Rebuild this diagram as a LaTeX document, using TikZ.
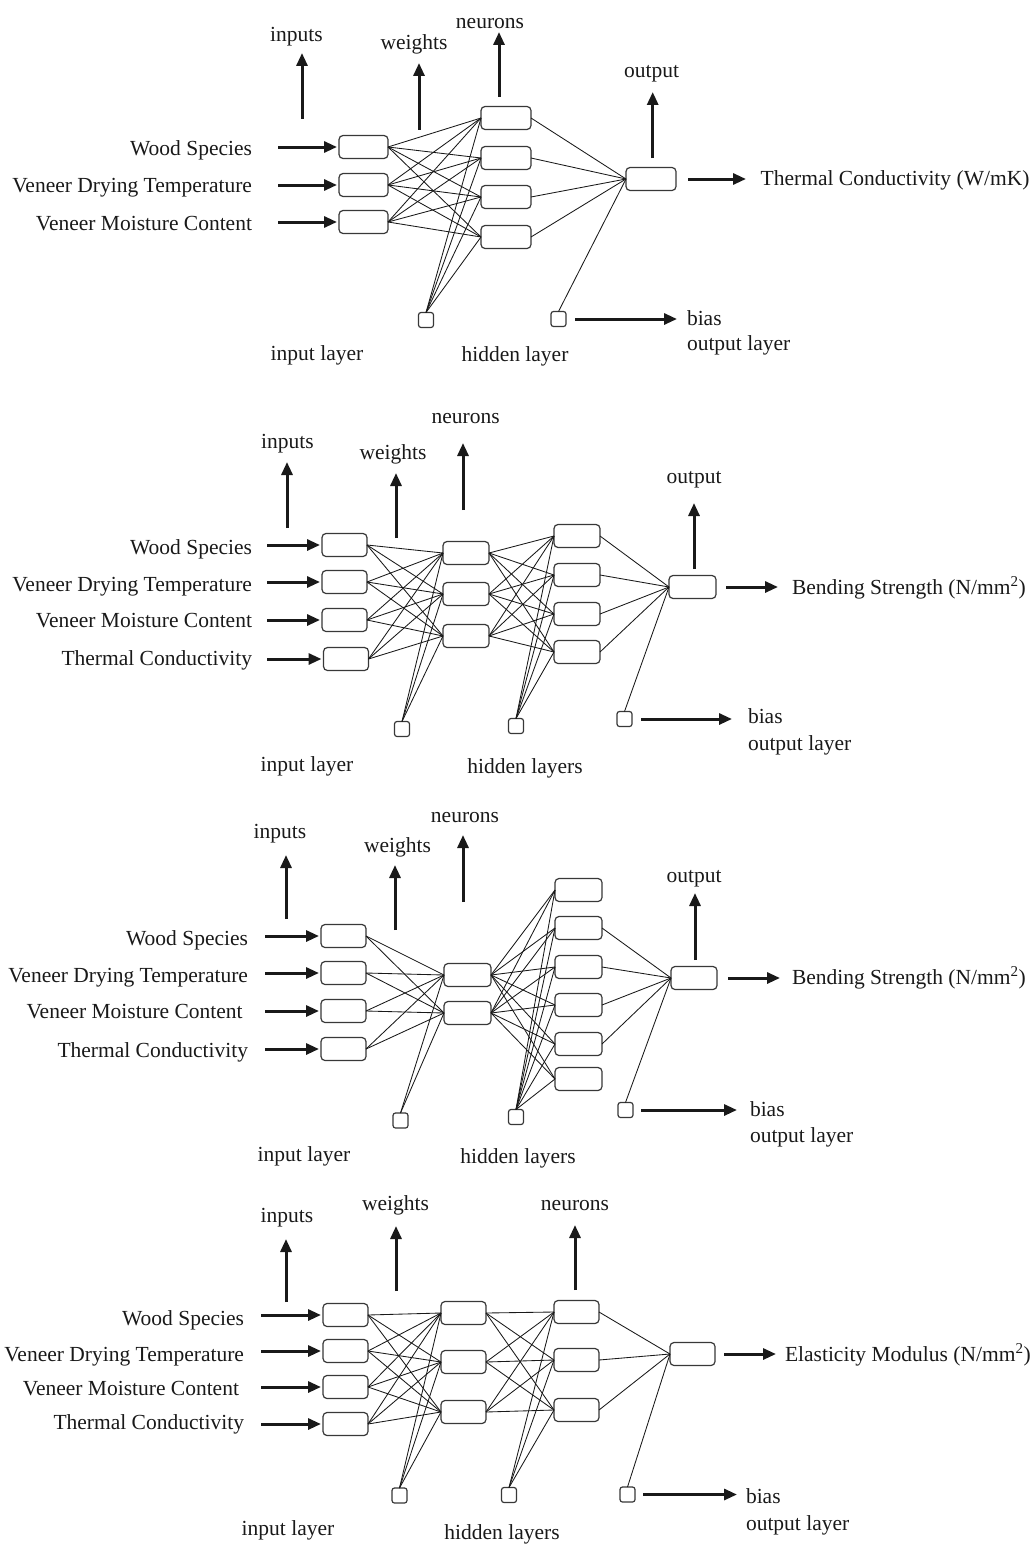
\documentclass[tikz,border=0pt]{standalone}
\usepackage{fontspec}
\setmainfont{Liberation Serif}
\usetikzlibrary{arrows.meta}
\begin{document}
\begin{tikzpicture}[x=1pt,y=-1pt,
  every node/.style={inner sep=0pt, outer sep=0pt},
  unit/.style={draw=black!78, line width=1.2pt, rounded corners=4pt, minimum height=23pt},
  biasbox/.style={draw=black!78, line width=1.2pt, rounded corners=2.5pt, minimum width=15pt, minimum height=15pt},
  lbl/.style={font=\fontsize{21.5}{25}\selectfont, text=black!90},
  conn/.style={line width=0.85pt, draw=black!90},
  bigarrow/.style={line width=3pt, draw=black!90, -{Triangle[length=13pt,width=11pt]}},
]
\useasboundingbox (0,0) rectangle (1031,1544);

% ================= PANEL 1 =================
\foreach \i/\y in {1/147,2/185,3/222} \node[unit, minimum width=49pt] (p1i\i) at (363.5,\y) {};
\foreach \i/\y in {1/118,2/158,3/197,4/237} \node[unit, minimum width=50pt] (p1h\i) at (506,\y) {};
\node[unit, minimum width=50pt] (p1o) at (651,179) {};
\node[biasbox] (p1b1) at (426,320) {};
\node[biasbox] (p1b2) at (558.5,319) {};
\foreach \i in {1,2,3} \foreach \j in {1,...,4} \draw[conn] (p1i\i.east) -- (p1h\j.west);
\foreach \j in {1,...,4} \draw[conn] (p1b1.north) -- (p1h\j.west);
\foreach \j in {1,...,4} \draw[conn] (p1h\j.east) -- (p1o.west);
\draw[conn] (p1b2.north) -- (p1o.west);

\node[lbl, anchor=base east] (p1l1) at (252,155) {Wood Species};
\node[lbl, anchor=base east] (p1l2) at (252,192.7) {Veneer Drying Temperature};
\node[lbl, anchor=base east] (p1l3) at (252,230) {Veneer Moisture Content};
\foreach \i/\y in {1/147,2/185,3/222} {\coordinate (p1s\i) at (278,\y); \draw[bigarrow, shorten >=2pt] (p1s\i) -- (p1i\i.west);}

\node[lbl, anchor=base] (p1inp) at (296.5,42) {inputs};
\coordinate (p1ua1) at (302,119); \coordinate (p1ub1) at (302,53);
\draw[bigarrow] (p1ua1) -- (p1ub1);
\node[lbl, anchor=base] (p1wts) at (414,50) {weights};
\coordinate (p1ua2) at (419,130); \coordinate (p1ub2) at (419,63);
\draw[bigarrow] (p1ua2) -- (p1ub2);
\node[lbl, anchor=base] (p1neu) at (490,29) {neurons};
\coordinate (p1ua3) at (499,97); \coordinate (p1ub3) at (499,32);
\draw[bigarrow] (p1ua3) -- (p1ub3);
\node[lbl, anchor=base] (p1out) at (651.5,78) {output};
\coordinate (p1ua4) at (652.7,158); \coordinate (p1ub4) at (652.7,92);
\draw[bigarrow] (p1ua4) -- (p1ub4);

\coordinate (p1oe) at (746,179);
\draw[bigarrow, shorten <=12pt] (p1o.east) -- (p1oe);
\node[lbl, anchor=base west] (p1res) at (760.7,185) {Thermal Conductivity (W/mK)};
\coordinate (p1be) at (677,319);
\draw[bigarrow, shorten <=9pt] (p1b2.east) -- (p1be);
\node[lbl, anchor=base west] (p1bias) at (687,325) {bias};
\node[lbl, anchor=base west] (p1ol) at (687,350) {output layer};
\node[lbl, anchor=base] (p1il) at (317,360) {input layer};
\node[lbl, anchor=base] (p1hl) at (515,361) {hidden layer};

% ================= PANEL 2 =================
\foreach \i/\x/\y in {1/344.5/545,2/344.5/582,3/344.5/620,4/346/659} \node[unit, minimum width=45pt] (p2i\i) at (\x,\y) {};
\foreach \i/\y in {1/553,2/594,3/636} \node[unit, minimum width=46pt] (p2h\i) at (466,\y) {};
\foreach \i/\y in {1/536,2/575,3/614,4/652} \node[unit, minimum width=46pt] (p2k\i) at (577,\y) {};
\node[unit, minimum width=47pt] (p2o) at (692.5,587) {};
\node[biasbox] (p2b1) at (402,729) {};
\node[biasbox] (p2b2) at (516,726) {};
\node[biasbox] (p2b3) at (624.5,719) {};
\foreach \i in {1,...,4} \foreach \j in {1,2,3} \draw[conn] (p2i\i.east) -- (p2h\j.west);
\foreach \j in {1,2,3} \draw[conn] (p2b1.north) -- (p2h\j.west);
\foreach \i in {1,2,3} \foreach \j in {1,...,4} \draw[conn] (p2h\i.east) -- (p2k\j.west);
\foreach \j in {1,...,4} \draw[conn] (p2b2.north) -- (p2k\j.west);
\foreach \j in {1,...,4} \draw[conn] (p2k\j.east) -- (p2o.west);
\draw[conn] (p2b3.north) -- (p2o.west);

\node[lbl, anchor=base east] (p2l1) at (252,554) {Wood Species};
\node[lbl, anchor=base east] (p2l2) at (252,591.7) {Veneer Drying Temperature};
\node[lbl, anchor=base east] (p2l3) at (252,627.7) {Veneer Moisture Content};
\node[lbl, anchor=base east] (p2l4) at (252,665) {Thermal Conductivity};
\foreach \i/\y in {1/545,2/582,3/620,4/659} {\coordinate (p2s\i) at (267,\y); \draw[bigarrow, shorten >=2pt] (p2s\i) -- (p2i\i.west);}

\node[lbl, anchor=base] (p2inp) at (287.5,448) {inputs};
\coordinate (p2ua1) at (287,528); \coordinate (p2ub1) at (287,462);
\draw[bigarrow] (p2ua1) -- (p2ub1);
\node[lbl, anchor=base] (p2wts) at (393,459) {weights};
\coordinate (p2ua2) at (396,538); \coordinate (p2ub2) at (396,473);
\draw[bigarrow] (p2ua2) -- (p2ub2);
\node[lbl, anchor=base] (p2neu) at (465.7,423) {neurons};
\coordinate (p2ua3) at (463,510); \coordinate (p2ub3) at (463,443);
\draw[bigarrow] (p2ua3) -- (p2ub3);
\node[lbl, anchor=base] (p2out) at (694,483) {output};
\coordinate (p2ua4) at (694,569); \coordinate (p2ub4) at (694,503);
\draw[bigarrow] (p2ua4) -- (p2ub4);

\coordinate (p2oe) at (778,587);
\draw[bigarrow, shorten <=10pt] (p2o.east) -- (p2oe);
\node[lbl, anchor=base west] (p2res) at (792,594) {Bending Strength (N/mm\textsuperscript{2})};
\coordinate (p2be) at (732,719);
\draw[bigarrow, shorten <=9pt] (p2b3.east) -- (p2be);
\node[lbl, anchor=base west] (p2bias) at (748,723) {bias};
\node[lbl, anchor=base west] (p2ol) at (748,750) {output layer};
\node[lbl, anchor=base] (p2il) at (307,771) {input layer};
\node[lbl, anchor=base] (p2hl) at (525,773) {hidden layers};

% ================= PANEL 3 =================
\foreach \i/\y in {1/936,2/973,3/1011,4/1049} \node[unit, minimum width=45pt] (p3i\i) at (343.5,\y) {};
\foreach \i/\y in {1/975,2/1013} \node[unit, minimum width=47pt] (p3h\i) at (467.5,\y) {};
\foreach \i/\y in {1/890,2/928,3/967,4/1005,5/1044,6/1079} \node[unit, minimum width=47pt] (p3k\i) at (578.5,\y) {};
\node[unit, minimum width=46pt] (p3o) at (694,978) {};
\node[biasbox] (p3b1) at (400.5,1120.5) {};
\node[biasbox] (p3b2) at (516,1117) {};
\node[biasbox] (p3b3) at (625.5,1110) {};
\foreach \i in {1,...,4} \foreach \j in {1,2} \draw[conn] (p3i\i.east) -- (p3h\j.west);
\foreach \j in {1,2} \draw[conn] (p3b1.north) -- (p3h\j.west);
\foreach \i in {1,2} \foreach \j in {1,...,6} \draw[conn] (p3h\i.east) -- (p3k\j.west);
\foreach \j in {1,...,6} \draw[conn] (p3b2.north) -- (p3k\j.west);
\foreach \j in {2,...,5} \draw[conn] (p3k\j.east) -- (p3o.west);
\draw[conn] (p3b3.north) -- (p3o.west);

\node[lbl, anchor=base east] (p3l1) at (248,945) {Wood Species};
\node[lbl, anchor=base east] (p3l2) at (248,982.7) {Veneer Drying Temperature};
\node[lbl, anchor=base east] (p3l3) at (242.7,1018) {Veneer Moisture Content};
\node[lbl, anchor=base east] (p3l4) at (248,1057) {Thermal Conductivity};
\foreach \i/\y in {1/936,2/973,3/1011,4/1049} {\coordinate (p3s\i) at (265,\y); \draw[bigarrow, shorten >=2pt] (p3s\i) -- (p3i\i.west);}

\node[lbl, anchor=base] (p3inp) at (280,838) {inputs};
\coordinate (p3ua1) at (286,919); \coordinate (p3ub1) at (286,855);
\draw[bigarrow] (p3ua1) -- (p3ub1);
\node[lbl, anchor=base] (p3wts) at (397.5,852) {weights};
\coordinate (p3ua2) at (395,930); \coordinate (p3ub2) at (395,865);
\draw[bigarrow] (p3ua2) -- (p3ub2);
\node[lbl, anchor=base] (p3neu) at (465,822) {neurons};
\coordinate (p3ua3) at (463,902); \coordinate (p3ub3) at (463,835);
\draw[bigarrow] (p3ua3) -- (p3ub3);
\node[lbl, anchor=base] (p3out) at (694,882) {output};
\coordinate (p3ua4) at (695,960); \coordinate (p3ub4) at (695,893);
\draw[bigarrow] (p3ua4) -- (p3ub4);

\coordinate (p3oe) at (780,978);
\draw[bigarrow, shorten <=11pt] (p3o.east) -- (p3oe);
\node[lbl, anchor=base west] (p3res) at (792,984) {Bending Strength (N/mm\textsuperscript{2})};
\coordinate (p3be) at (737,1110);
\draw[bigarrow, shorten <=8pt] (p3b3.east) -- (p3be);
\node[lbl, anchor=base west] (p3bias) at (750,1116) {bias};
\node[lbl, anchor=base west] (p3ol) at (750,1142) {output layer};
\node[lbl, anchor=base] (p3il) at (304,1161) {input layer};
\node[lbl, anchor=base] (p3hl) at (518,1163) {hidden layers};

% ================= PANEL 4 =================
\foreach \i/\y in {1/1315,2/1351,3/1387,4/1424} \node[unit, minimum width=45pt] (p4i\i) at (345.5,\y) {};
\foreach \i/\y in {1/1313,2/1362,3/1412} \node[unit, minimum width=45pt] (p4h\i) at (463.5,\y) {};
\foreach \i/\y in {1/1312,2/1360,3/1410} \node[unit, minimum width=45pt] (p4k\i) at (576.5,\y) {};
\node[unit, minimum width=45pt] (p4o) at (692.5,1354) {};
\node[biasbox] (p4b1) at (399.5,1495.5) {};
\node[biasbox] (p4b2) at (509,1495) {};
\node[biasbox] (p4b3) at (627.5,1494.5) {};
\foreach \i in {1,...,4} \foreach \j in {1,2,3} \draw[conn] (p4i\i.east) -- (p4h\j.west);
\foreach \j in {1,2,3} \draw[conn] (p4b1.north) -- (p4h\j.west);
\foreach \i in {1,2,3} \foreach \j in {1,2,3} \draw[conn] (p4h\i.east) -- (p4k\j.west);
\foreach \j in {1,2,3} \draw[conn] (p4b2.north) -- (p4k\j.west);
\foreach \j in {1,2,3} \draw[conn] (p4k\j.east) -- (p4o.west);
\draw[conn] (p4b3.north) -- (p4o.west);

\node[lbl, anchor=base east] (p4l1) at (244,1325) {Wood Species};
\node[lbl, anchor=base east] (p4l2) at (244,1361) {Veneer Drying Temperature};
\node[lbl, anchor=base east] (p4l3) at (239,1395) {Veneer Moisture Content};
\node[lbl, anchor=base east] (p4l4) at (244,1429) {Thermal Conductivity};
\foreach \i/\y in {1/1315,2/1351,3/1387,4/1424} {\coordinate (p4s\i) at (261,\y); \draw[bigarrow, shorten >=2pt] (p4s\i) -- (p4i\i.west);}

\node[lbl, anchor=base] (p4inp) at (287,1222) {inputs};
\coordinate (p4ua1) at (286,1302); \coordinate (p4ub1) at (286,1239);
\draw[bigarrow] (p4ua1) -- (p4ub1);
\node[lbl, anchor=base] (p4wts) at (395.5,1210) {weights};
\coordinate (p4ua2) at (396,1291); \coordinate (p4ub2) at (396,1226);
\draw[bigarrow] (p4ua2) -- (p4ub2);
\node[lbl, anchor=base] (p4neu) at (575,1210) {neurons};
\coordinate (p4ua3) at (575,1290); \coordinate (p4ub3) at (575,1225);
\draw[bigarrow] (p4ua3) -- (p4ub3);

\coordinate (p4oe) at (776,1354);
\draw[bigarrow, shorten <=9pt] (p4o.east) -- (p4oe);
\node[lbl, anchor=base west] (p4res) at (785,1361) {Elasticity Modulus (N/mm\textsuperscript{2})};
\coordinate (p4be) at (737,1494.5);
\draw[bigarrow, shorten <=8pt] (p4b3.east) -- (p4be);
\node[lbl, anchor=base west] (p4bias) at (746,1503) {bias};
\node[lbl, anchor=base west] (p4ol) at (746,1530) {output layer};
\node[lbl, anchor=base] (p4il) at (288,1535) {input layer};
\node[lbl, anchor=base] (p4hl) at (502,1539) {hidden layers};
\end{tikzpicture}
\end{document}
